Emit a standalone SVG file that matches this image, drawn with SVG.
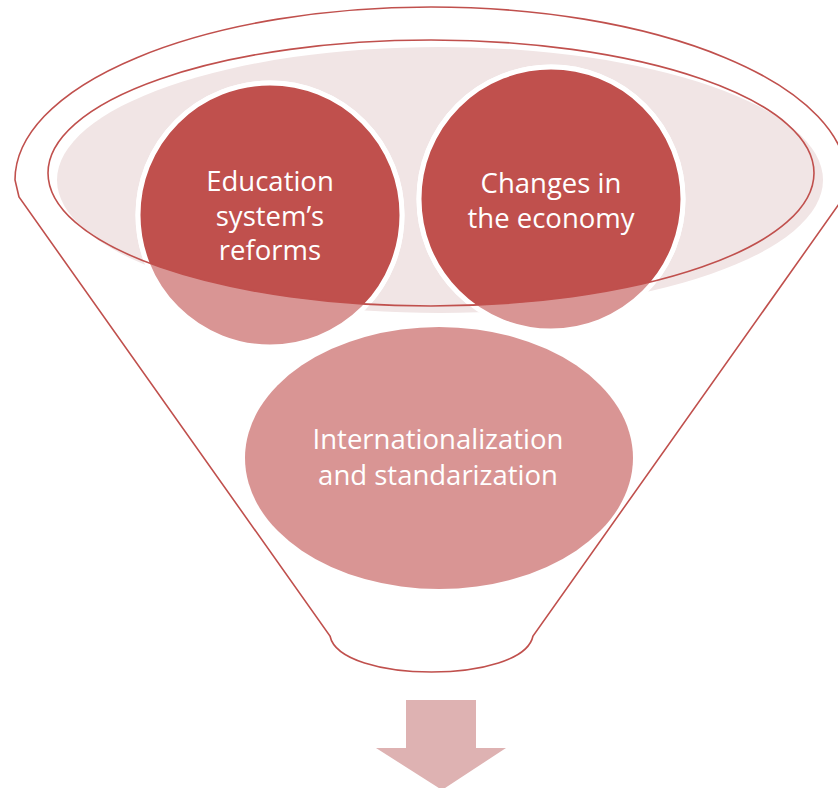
<svg xmlns="http://www.w3.org/2000/svg" width="838" height="788" viewBox="0 0 838 788">
  <style>
    .outline { fill: none; stroke: #C0504D; stroke-width: 1.6; }
    .lbl { font-family: "Open Sans", "Liberation Sans", sans-serif; font-size: 27.5px; fill: #FFFFFF; text-anchor: middle; font-variant-ligatures: none; }
    .ring { stroke: #FFFFFF; stroke-width: 5; }
  </style>
  <defs>
    <clipPath id="bowl">
      <ellipse cx="431" cy="173" rx="383" ry="133"/>
    </clipPath>
  </defs>
  <rect width="838" height="788" fill="#FFFFFF"/>

  <g id="funnel">
    <path class="outline" d="M 19,197 L 15,180 A 416 173 0 0 1 847,180 L 844,197 L 533,636 C 523,684 340,684 330,636 Z"/>
    <ellipse cx="440" cy="180" rx="383" ry="133" fill="#F1E5E5"/>
  </g>

  <g id="node-education">
    <circle class="ring" cx="270" cy="215" r="132" fill="#D99594"/>
    <circle class="ring" cx="270" cy="215" r="132" fill="#C0504D" clip-path="url(#bowl)"/>
    <text class="lbl" x="270" y="191">Education</text>
    <text class="lbl" x="270" y="226">system’s</text>
    <text class="lbl" x="270" y="260">reforms</text>
  </g>

  <g id="node-economy">
    <circle class="ring" cx="551" cy="199" r="132" fill="#D99594"/>
    <circle class="ring" cx="551" cy="199" r="132" fill="#C0504D" clip-path="url(#bowl)"/>
    <text class="lbl" x="551" y="193">Changes in</text>
    <text class="lbl" x="551" y="228">the economy</text>
  </g>

  <g id="bowl-rim">
    <ellipse class="outline" cx="431" cy="173" rx="383" ry="133"/>
  </g>

  <g id="node-international">
    <ellipse cx="439" cy="458" rx="194" ry="131" fill="#D99594"/>
    <text class="lbl" x="438" y="449">Internationalization</text>
    <text class="lbl" x="438" y="485">and standarization</text>
  </g>

  <g id="connectors">
    <polygon id="arrow" points="406,700 476,700 476,748 506,748 442,790 376,748 406,748" fill="#DEB2B2"/>
  </g>
</svg>
